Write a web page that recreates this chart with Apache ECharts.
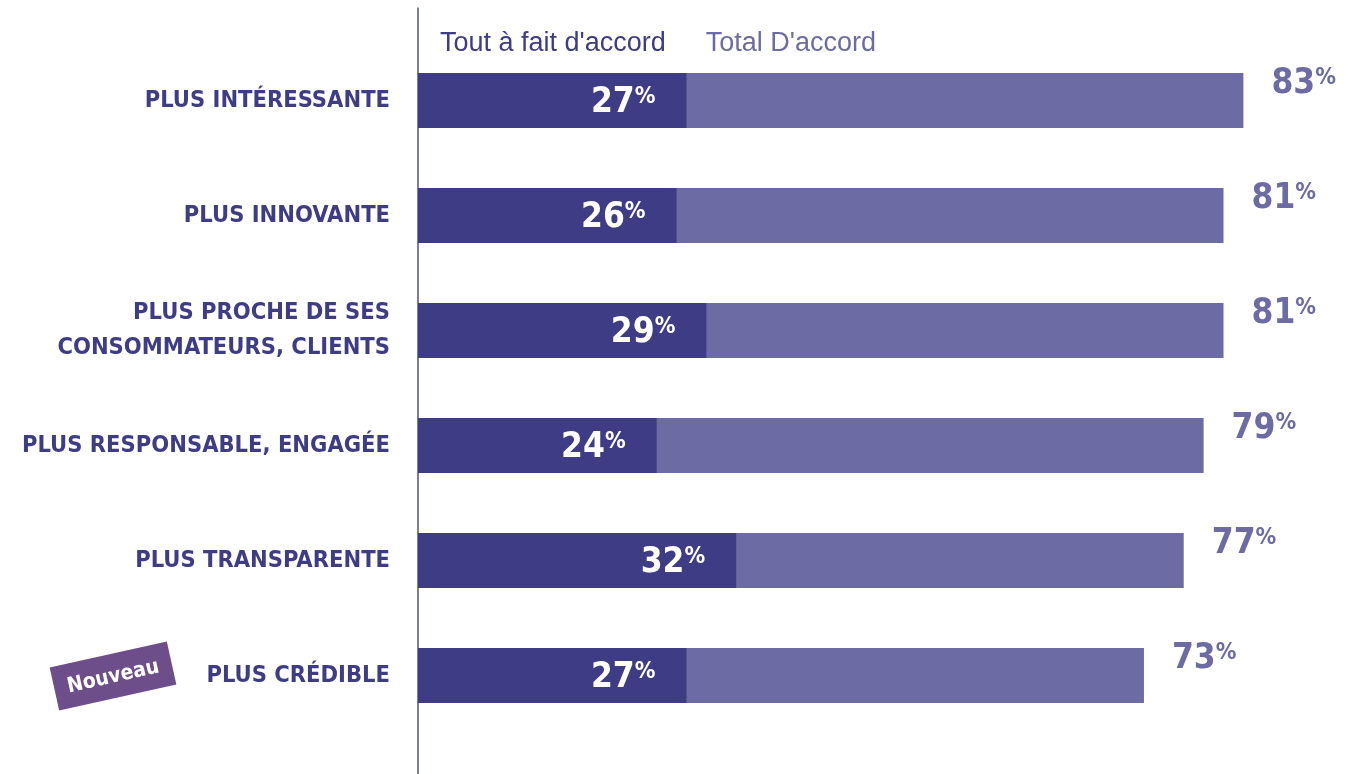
<!DOCTYPE html>
<html>
<head>
<meta charset="utf-8">
<script src="https://cdn.jsdelivr.net/npm/echarts@6/dist/echarts.min.js"></script>
<style>
  html, body { margin: 0; padding: 0; background: #fff; }
  #chart { width: 1355px; height: 774px; }
</style>
</head>
<body>
<div id="chart"></div>
<script>
const categories = [
  'PLUS INTÉRESSANTE',
  'PLUS INNOVANTE',
  'PLUS PROCHE DE SES\nCONSOMMATEURS, CLIENTS',
  'PLUS RESPONSABLE, ENGAGÉE',
  'PLUS TRANSPARENTE',
  'PLUS CRÉDIBLE',
];
const toutAFait = [27, 26, 29, 24, 32, 27];
const totalAccord = [83, 81, 81, 79, 77, 73];
const seriesNames = ["Tout à fait d'accord", "Total D'accord"];

const DARK = '#3d3c85';
const LIGHT = '#6c6ba3';
const NARROW = '"Liberation Sans Narrow", "DejaVu Sans Condensed", sans-serif';

const chart = echarts.init(document.getElementById('chart'));

const pctRich = (color) => ({
  n: { fontFamily: NARROW, fontWeight: 'bold', fontSize: 35, color, lineHeight: 38 },
  p: { fontFamily: NARROW, fontWeight: 'bold', fontSize: 23, color, verticalAlign: 'top', lineHeight: 22, padding: [2, 0, 0, 0] },
});

chart.setOption({
  animation: false,
  legend: {
    left: 430,
    top: 25,
    itemWidth: 0,
    itemHeight: 0,
    itemGap: 35,
    selectedMode: false,
    data: [
      { name: seriesNames[0], textStyle: { color: DARK } },
      { name: seriesNames[1], textStyle: { color: LIGHT } },
    ],
    textStyle: { fontFamily: '"Liberation Sans", sans-serif', fontSize: 27 },
  },
  grid: [
    { left: 418, top: 43, width: 895, height: 690, outerBoundsMode: 'none' },
    { left: 418, top: 8, width: 895, bottom: 0, outerBoundsMode: 'none' },
  ],
  xAxis: [
    { type: 'value', min: 0, max: 90, show: false },
    { type: 'value', min: 0, max: 90, show: false, gridIndex: 1 },
  ],
  yAxis: [
    {
      type: 'category',
      data: categories,
      inverse: true,
      axisLine: { show: false },
      axisTick: { show: false },
      axisLabel: {
        margin: 28,
        fontFamily: NARROW,
        fontWeight: 'bold',
        fontSize: 23.5,
        lineHeight: 35,
        color: DARK,
        align: 'right',
      },
    },
    {
      type: 'value',
      gridIndex: 1,
      axisLine: { show: true, lineStyle: { color: '#4f4e8e', width: 1.5 } },
      axisTick: { show: false },
      axisLabel: { show: false },
      splitLine: { show: false },
    },
  ],
  series: [
    {
      name: seriesNames[1],
      type: 'bar',
      data: totalAccord,
      barWidth: 55,
      barGap: '-100%',
      itemStyle: { color: LIGHT },
      label: {
        show: true,
        position: 'right',
        distance: 28,
        offset: [0, -17],
        formatter: (p) => `{n|${p.value}}{p|%}`,
        rich: pctRich(LIGHT),
      },
      z: 1,
    },
    {
      name: seriesNames[0],
      type: 'bar',
      data: toutAFait,
      barWidth: 55,
      barGap: '-100%',
      itemStyle: { color: DARK },
      label: {
        show: true,
        position: 'insideRight',
        distance: 31,
        offset: [0, 2],
        formatter: (p) => `{n|${p.value}}{p|%}`,
        rich: pctRich('#ffffff'),
      },
      z: 2,
    },
  ],
  graphic: [
    {
      type: 'group',
      x: 113,
      y: 676,
      rotation: 0.218,
      children: [
        { type: 'rect', shape: { x: -60, y: -22, width: 120, height: 44 }, style: { fill: '#6e4e8a' } },
        {
          type: 'text',
          style: {
            text: 'Nouveau',
            x: 0,
            y: 1,
            align: 'center',
            verticalAlign: 'middle',
            fill: '#ffffff',
            font: 'bold 21px "Liberation Sans Narrow", "DejaVu Sans Condensed", sans-serif',
          },
        },
      ],
    },
  ],
});
</script>
</body>
</html>
